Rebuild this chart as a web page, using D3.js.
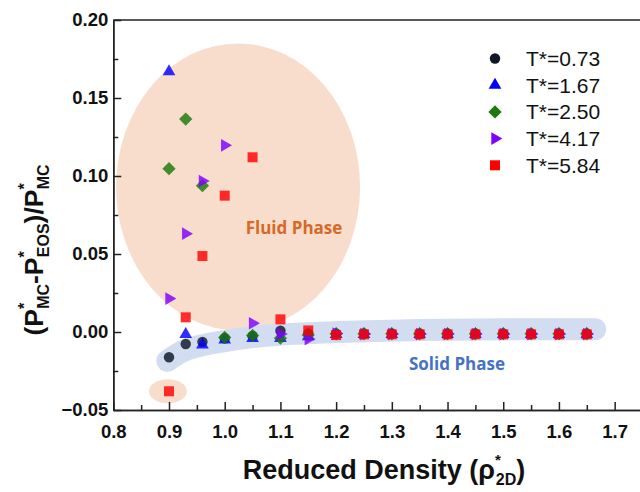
<!DOCTYPE html>
<html>
<head>
<meta charset="utf-8">
<script src="https://cdn.jsdelivr.net/npm/d3@7"></script>
<style>
  body { margin: 0; background: #fff; }
  text { font-family: "Liberation Sans", Arial, sans-serif; }
</style>
</head>
<body>
<div id="chart"></div>
<script>
var svgWidth = 640;
var svgHeight = 492;

// reduced density values shared by every temperature
var density = [0.90, 0.93, 0.96, 1.00, 1.05, 1.10, 1.15, 1.20, 1.25, 1.30, 1.35, 1.40, 1.45, 1.50, 1.55, 1.60, 1.65];

// (P*MC - P*EOS) / P*MC for each temperature
var t073 = [-0.0162, -0.0077, -0.0063, -0.0040, -0.0025, 0.0008, -0.0010, -0.0010, -0.0010, -0.0010, -0.0010, -0.0010, -0.0010, -0.0010, -0.0010, -0.0010, -0.0010];
var t167 = [0.1670, -0.0015, -0.0083, -0.0050, -0.0040, -0.0040, -0.0030, -0.0015, -0.0015, -0.0015, -0.0015, -0.0015, -0.0015, -0.0015, -0.0015, -0.0015, -0.0015];
var t250 = [0.1047, 0.1365, 0.0938, -0.0035, -0.0022, -0.0040, -0.0020, -0.0012, -0.0012, -0.0012, -0.0012, -0.0012, -0.0012, -0.0012, -0.0012, -0.0012, -0.0012];
var t417 = [0.0214, 0.0630, 0.0968, 0.1197, 0.0056, -0.0013, -0.0045, -0.0010, -0.0013, -0.0013, -0.0013, -0.0013, -0.0013, -0.0013, -0.0013, -0.0013, -0.0013];
var t584 = [-0.0380, 0.0094, 0.0487, 0.0874, 0.1120, 0.0081, 0.0010, -0.0020, -0.0015, -0.0015, -0.0015, -0.0015, -0.0015, -0.0015, -0.0015, -0.0015, -0.0015];

var seriesNames = ["T*=0.73", "T*=1.67", "T*=2.50", "T*=4.17", "T*=5.84"];
var seriesValues = [t073, t167, t250, t417, t584];
var seriesColors = ["#0f1628", "#0000ff", "#1a7a0a", "#8000ff", "#ff0000"];
var seriesShapes = ["circle", "triangle", "diamond", "right", "square"];

var xTicks = [0.8, 0.9, 1.0, 1.1, 1.2, 1.3, 1.4, 1.5, 1.6, 1.7];
var xMinor = [0.85, 0.95, 1.05, 1.15, 1.25, 1.35, 1.45, 1.55, 1.65];
var yTicks = [-0.05, 0.00, 0.05, 0.10, 0.15, 0.20];
var yMinor = [-0.025, 0.025, 0.075, 0.125, 0.175];

// phase annotations, in data units: [cx, cy, rx, ry]
var fluidZone = [1.024, 0.093, 0.219, 0.092];
var outlierZone = [0.898, -0.038, 0.034, 0.0077];
// solid phase band centre line, [density, value]
var solidBand = [[0.897, -0.0185], [0.93, -0.0115], [1.0, -0.0058], [1.09, -0.0019], [1.315, 0.0010], [1.665, 0.0018]];

var svg = d3.select("#chart")
  .append("svg")
  .attr("width", svgWidth)
  .attr("height", svgHeight);

var x = d3.scaleLinear().domain([0.8, 1.75]).range([113.3, 642.5]);
var y = d3.scaleLinear().domain([-0.05, 0.2]).range([410, 20]);

// shaded phase regions
svg.append("ellipse")
  .attr("cx", x(fluidZone[0]))
  .attr("cy", y(fluidZone[1]))
  .attr("rx", x(fluidZone[0] + fluidZone[2]) - x(fluidZone[0]))
  .attr("ry", y(fluidZone[1] - fluidZone[3]) - y(fluidZone[1]))
  .attr("fill", "#f9ddcc");

svg.append("ellipse")
  .attr("cx", x(outlierZone[0]))
  .attr("cy", y(outlierZone[1]))
  .attr("rx", x(outlierZone[0] + outlierZone[2]) - x(outlierZone[0]))
  .attr("ry", y(outlierZone[1] - outlierZone[3]) - y(outlierZone[1]))
  .attr("fill", "#f9ddcc");

var bandLine = d3.line()
  .x(d => x(d[0]))
  .y(d => y(d[1]))
  .curve(d3.curveCatmullRom);

svg.append("path")
  .attr("d", bandLine(solidBand))
  .attr("fill", "none")
  .attr("stroke", "#d2ddf1")
  .attr("stroke-width", 22)
  .attr("stroke-linecap", "round");

svg.append("text")
  .attr("x", 294).attr("y", 234)
  .attr("text-anchor", "middle")
  .style("font-family", "'Open Sans', sans-serif")
  .style("font-weight", "bold")
  .style("font-size", "17px")
  .attr("fill", "#d46a26")
  .text("Fluid Phase");

svg.append("text")
  .attr("x", 457).attr("y", 370)
  .attr("text-anchor", "middle")
  .style("font-family", "'Open Sans', sans-serif")
  .style("font-weight", "bold")
  .style("font-size", "17px")
  .attr("fill", "#4472c4")
  .text("Solid Phase");

// axes (ticks point inwards)
var bottomAxis = d3.axisBottom(x).tickValues(xTicks).tickFormat(d3.format(".1f"))
  .tickSizeInner(-8).tickSizeOuter(0).tickPadding(15);
var bottomMinor = d3.axisBottom(x).tickValues(xMinor).tickFormat("")
  .tickSizeInner(-5).tickSizeOuter(0);
var leftAxis = d3.axisLeft(y).tickValues(yTicks).tickFormat(d3.format(".2f"))
  .tickSizeInner(-8).tickSizeOuter(0).tickPadding(5);
var leftMinor = d3.axisLeft(y).tickValues(yMinor).tickFormat("")
  .tickSizeInner(-5).tickSizeOuter(0);

function styleAxis(g) {
  g.selectAll("path, line").attr("stroke", "#222").attr("stroke-width", 1.5);
  g.selectAll("text")
    .attr("fill", "#111")
    .style("font-family", "'Liberation Sans', Arial, sans-serif")
    .style("font-size", "18.5px")
    .style("font-weight", "bold");
}

svg.append("g").attr("transform", "translate(0,410)").call(bottomMinor).call(styleAxis);
svg.append("g").attr("transform", "translate(0,410)").call(bottomAxis).call(styleAxis);
svg.append("g").attr("transform", "translate(113.3,0)").call(leftMinor).call(styleAxis);
svg.append("g").attr("transform", "translate(113.3,0)").call(leftAxis).call(styleAxis);

// top frame line
svg.append("line")
  .attr("x1", x(0.8)).attr("x2", svgWidth)
  .attr("y1", y(0.2)).attr("y2", y(0.2))
  .attr("stroke", "#222").attr("stroke-width", 1.5);

// marker shapes
function symbolPath(shape) {
  if (shape === "circle") return d3.symbol(d3.symbolCircle, 85)();
  if (shape === "triangle") return d3.symbol(d3.symbolTriangle, 70)();
  if (shape === "right") return d3.symbol(d3.symbolTriangle, 70)();
  if (shape === "diamond") return d3.symbol(d3.symbolSquare, 88)();
  return d3.symbol(d3.symbolSquare, 100)();
}
function symbolRotate(shape) {
  if (shape === "right") return 90;
  if (shape === "diamond") return 45;
  return 0;
}

seriesValues.forEach(function(vals, i) {
  var pts = density.map((d, j) => [d, vals[j]]);
  svg.append("g")
    .selectAll("path")
    .data(pts)
    .enter()
    .append("path")
    .attr("d", symbolPath(seriesShapes[i]))
    .attr("transform", d => `translate(${x(d[0])},${y(d[1])}) rotate(${symbolRotate(seriesShapes[i])})`)
    .attr("fill", seriesColors[i])
    .attr("fill-opacity", 0.82);
});

// legend
var legend = svg.append("g");
seriesNames.forEach(function(name, i) {
  var ly = 58.5 + i * 26.7;
  legend.append("path")
    .attr("d", symbolPath(seriesShapes[i]))
    .attr("transform", `translate(495,${ly}) rotate(${symbolRotate(seriesShapes[i])})`)
    .attr("fill", seriesColors[i]);
  legend.append("text")
    .attr("x", 526).attr("y", ly)
    .attr("dy", "0.35em")
    .style("font-size", "21px")
    .attr("fill", "#111")
    .text(name);
});

// axis titles
var xTitle = svg.append("text")
  .attr("x", 384).attr("y", 479)
  .attr("text-anchor", "middle")
  .style("font-size", "27px")
  .style("font-weight", "bold")
  .attr("fill", "#111");
xTitle.append("tspan").text("Reduced Density (\u03c1");
xTitle.append("tspan").style("font-size", "15px").attr("dy", -14).text("*");
xTitle.append("tspan").style("font-size", "16px").attr("dx", -5).attr("dy", 20).text("2D");
xTitle.append("tspan").attr("dy", -6).text(")");

var yTitle = svg.append("text")
  .attr("transform", "translate(43,250) rotate(-90)")
  .attr("text-anchor", "middle")
  .style("font-size", "26.5px")
  .style("font-weight", "bold")
  .attr("fill", "#111");

function addTerm(base, sub, first) {
  yTitle.append("tspan").attr("dy", first ? 0 : -6).text(base);
  yTitle.append("tspan").style("font-size", "16px").attr("dy", -13).text("*");
  yTitle.append("tspan").style("font-size", "16px").attr("dx", -6).attr("dy", 19).text(sub);
}
addTerm("(P", "MC", true);
addTerm("-P", "EOS", false);
addTerm(")/P", "MC", false);
</script>
</body>
</html>
